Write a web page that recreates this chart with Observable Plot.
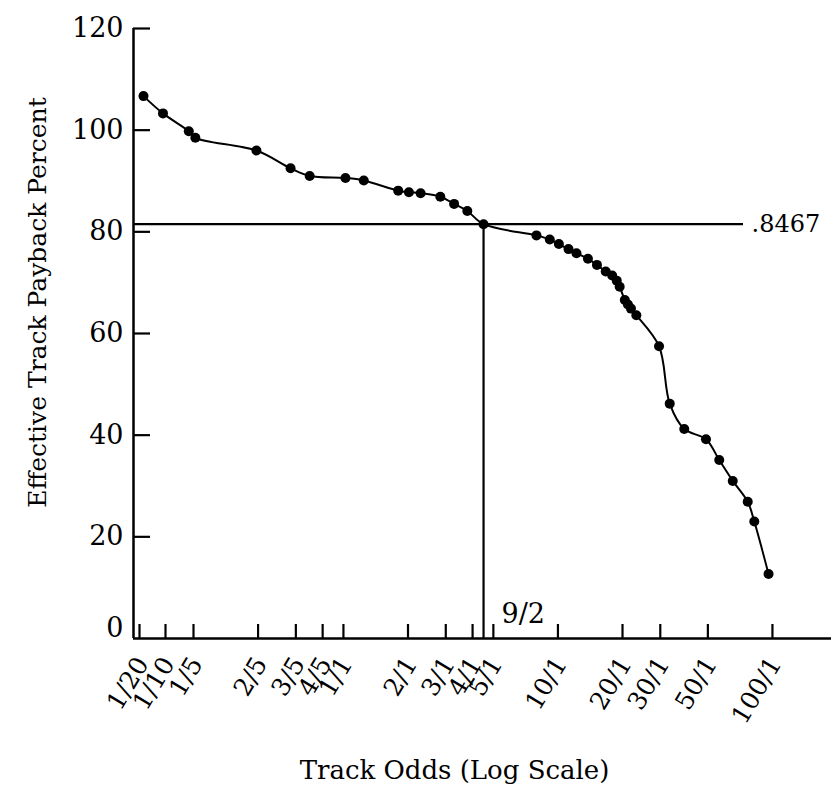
<!DOCTYPE html>
<html><head><meta charset="utf-8">
<script src="https://cdn.jsdelivr.net/npm/d3@7"></script>
<script src="https://cdn.jsdelivr.net/npm/@observablehq/plot@0.6"></script>
<style>body{margin:0;background:#fff}</style>
</head><body><div id="chart"></div>
<script>
// Track odds (x) and effective track payback percent (y)
const odds = [0.0556, 0.0935, 0.178, 0.204, 0.393, 0.567, 0.696, 1.022, 1.244, 1.80, 2.02, 2.29, 2.83, 3.28, 3.78, 4.5,
  7.94, 9.16, 10.1, 11.2, 12.2, 13.8, 15.2, 16.7, 17.9, 18.8, 19.4, 20.5, 21.2, 21.9, 23.2, 29.6, 33.2, 38.8, 49.0, 56.5, 65.3, 76.7, 82.3, 95.9];
const payback = [106.7, 103.3, 99.8, 98.5, 96.0, 92.5, 91.0, 90.6, 90.1, 88.1, 87.8, 87.6, 86.9, 85.5, 84.1, 81.5,
  79.3, 78.5, 77.6, 76.6, 75.8, 74.7, 73.5, 72.2, 71.4, 70.4, 69.2, 66.6, 65.7, 64.9, 63.6, 57.5, 46.2, 41.2, 39.2, 35.1, 31.0, 26.9, 23.0, 12.7];

const xTickValues = [1/20, 1/10, 1/5, 2/5, 3/5, 4/5, 1, 2, 3, 4, 5, 10, 20, 30, 50, 100];
const xTickLabels = ["1/20","1/10","1/5","2/5","3/5","4/5","1/1","2/1","3/1","4/1","5/1","10/1","20/1","30/1","50/1","100/1"];
const yTickValues = [0, 20, 40, 60, 80, 100, 120];

const breakEvenPayback = 81.5;
const breakEvenOdds = 4.5;
const breakEvenOddsLabel = "9/2";
const trackTakeLabel = ".8467";
const xTitle = "Track Odds (Log Scale)";
const yTitle = "Effective Track Payback Percent";

// piecewise log scale (the figure compresses the 1/20 – 1/5 end)
const xDomain = [0.0426, 0.05, 0.1, 0.2, 188.5];

const points = odds.map((o, i) => ({odds: o, payback: payback[i]}));

const W = 831, H = 785, mL = 133, mR = 0, mT = 28, mB = 147;
const frameW = W - mL - mR, frameH = H - mT - mB;
const font = "DejaVu Serif";

const chart = Plot.plot({
  width: W, height: H,
  marginLeft: mL, marginRight: mR, marginTop: mT, marginBottom: mB,
  style: {fontFamily: font, background: "white", color: "black", overflow: "visible"},
  x: {type: "log", domain: xDomain, range: [133, 139, 165, 193, 831], axis: null},
  y: {domain: [0, 120], axis: null},
  marks: [
    // axes lines
    Plot.ruleY([0], {stroke: "black", strokeWidth: 2.5}),
    Plot.ruleX([xDomain[0]], {y1: 0, y2: 120, stroke: "black", strokeWidth: 2.5}),
    // inward ticks
    Plot.ruleY(yTickValues.filter(v => v > 0), {insetRight: frameW - 17, stroke: "black", strokeWidth: 2.2}),
    Plot.ruleX(xTickValues, {insetTop: frameH - 14, stroke: "black", strokeWidth: 2.2}),
    // tick labels
    Plot.text(yTickValues.filter(v => v > 0), {y: d => d, text: d => String(d), frameAnchor: "left", textAnchor: "end", dx: -10, fontSize: 27, fill: "black"}),
    Plot.text([0], {y: d => d, text: d => String(d), frameAnchor: "left", textAnchor: "end", dx: -10, dy: -10, fontSize: 27, fill: "black"}),
    Plot.text(xTickValues, {x: d => d, y: 0, text: (d, i) => xTickLabels[i], rotate: -59, textAnchor: "end", lineAnchor: "middle", dx: 3, dy: 21, fontSize: 25, fill: "black"}),
    // reference lines
    Plot.ruleY([breakEvenPayback], {insetRight: 88, stroke: "black", strokeWidth: 2.2}),
    Plot.ruleX([breakEvenOdds], {y1: 0, y2: breakEvenPayback, stroke: "black", strokeWidth: 2.2}),
    Plot.text([trackTakeLabel], {y: breakEvenPayback, frameAnchor: "right", textAnchor: "start", dx: -80, fontSize: 24, fill: "black"}),
    Plot.text([breakEvenOddsLabel], {x: breakEvenOdds, y: 0, textAnchor: "start", lineAnchor: "bottom", dx: 18, dy: -16, fontSize: 27, fill: "black"}),
    // curve and points
    Plot.line(points, {x: "odds", y: "payback", curve: "catmull-rom", stroke: "black", strokeWidth: 2}),
    Plot.dot(points, {x: "odds", y: "payback", r: 5, fill: "black"}),
    // titles
    Plot.text([yTitle], {frameAnchor: "left", rotate: -90, textAnchor: "middle", lineAnchor: "middle", dx: -96, dy: -31, fontSize: 25, fill: "black"}),
    Plot.text([xTitle], {frameAnchor: "bottom", textAnchor: "middle", dx: -28, dy: 140, lineAnchor: "bottom", fontSize: 26, fill: "black"})
  ]
});
document.getElementById("chart").appendChild(chart);
</script>
</body></html>
